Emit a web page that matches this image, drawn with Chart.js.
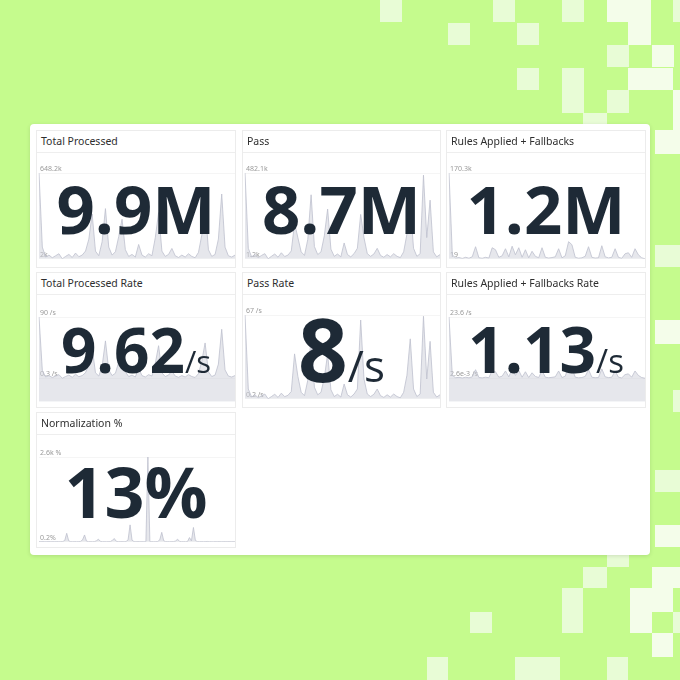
<!DOCTYPE html>
<html><head><meta charset="utf-8">
<script src="https://cdn.jsdelivr.net/npm/chart.js@4.4.1/dist/chart.umd.min.js"></script>
<style>
html,body{margin:0;padding:0;}
body{width:680px;height:680px;background:#c5fb8d;position:relative;overflow:hidden;font-family:"Open Sans","Noto Sans",sans-serif;}
.sq{position:absolute;}
.card{position:absolute;left:30px;top:124px;width:620px;height:431px;background:#fff;border-radius:4px;box-shadow:0 1px 4px rgba(0,0,0,0.12);}
.tile{position:absolute;border:1px solid #ececec;box-sizing:border-box;background:#fff;}
.hd{position:absolute;left:0;top:0;right:0;height:21px;border-bottom:1px solid #eeeeee;font:10.5px "Noto Sans",sans-serif;color:#2e2e2e;line-height:21px;padding-left:4px;white-space:nowrap;}
.tile canvas{position:absolute;left:0;}
.big{position:absolute;left:0;right:0;text-align:center;line-height:1;color:#1e2a36;font-weight:700;white-space:nowrap;font-family:"Open Sans",sans-serif;}
.big .u{font-weight:400;}
</style></head>
<body>
<div class="card"></div>
<script>
// ---- DATA ----
const titles = ["Total Processed","Pass","Rules Applied + Fallbacks","Total Processed Rate","Pass Rate","Rules Applied + Fallbacks Rate","Normalization %"];
const bigValues = ["9.9","8.7","1.2","9.62","8","1.13","13"];
const bigUnits = ["M","M","M","/s","/s","/s","%"];
const topLabels = ["648.2k","482.1k","170.3k","90 /s","67 /s","23.6 /s","2.6k %"];
const bottomLabels = ["2k","1.2k","19","0.3 /s","0.2 /s","2.6e-3 /s","0.2%"];

const totalProcessed = [648.2,90,15,30,10,25,40,2,20,35,12,45,18,30,60,150,340,60,25,130,380,90,30,55,170,300,70,20,35,15,110,30,15,40,25,160,350,60,20,35,80,25,12,30,15,40,20,10,50,180,400,70,20,35,150,490,90,25,15,30];
const pass = [482.1,60,12,25,8,20,30,1.2,15,28,10,35,14,22,45,200,120,40,20,110,360,70,25,40,130,280,55,15,28,12,90,25,12,30,60,250,120,30,15,28,60,20,10,25,12,30,15,8,40,140,300,60,15,30,470,120,330,40,12,25];
const rulesApplied = [170.3,8,1.5,2.5,0.8,3,1.2,4,24,2,1.1,3,1.5,22,18,3,6,20,4,25,8,22,3,18,2,15,5,2,22,3,1.5,2.5,4,20,2,6,34,28,3,1.2,2,5,24,3,1.5,2,26,4,1.8,3,20,3,1,10,12,3,20,8,2,0.019];
const totalRate = [90,12,2.1,4.2,1.4,3.5,5.6,0.3,2.8,4.9,1.7,6.2,2.5,4.2,8.3,21,45,8.3,3.5,18,55,12.5,4.2,7.6,24,44,9.7,2.8,4.9,2.1,15,4.2,2.1,5.6,3.5,22,48,8.3,2.8,4.9,11,3.5,1.7,4.2,2.1,5.6,2.8,1.4,7,25,52,9.7,2.8,4.9,21,72,12.5,3.5,2.1,4.2];
const passRate = [67,8,1.6,3.4,1,2.7,4,0.2,2,3.8,1.3,4.7,1.9,3,6,36,18,5.4,2.7,15,50,9.4,3.4,5.4,17,36,7.4,2,3.8,1.6,12,3.4,1.6,4,8,63,16,4,2,3.8,8,2.7,1.3,3.4,1.6,4,2,1,5.4,19,48,8,2,4,66,16,46,5.4,1.6,3.4];
const rulesRate = [23.6,1.1,0.2,0.35,0.11,0.4,0.17,0.55,3.3,0.28,0.15,0.4,0.2,3,2.5,0.4,0.8,2.8,0.55,3.5,1.1,3,0.4,2.5,0.28,2.1,0.7,0.28,3,0.4,0.2,0.35,0.55,2.8,0.28,0.8,4.7,3.9,0.4,0.17,0.28,0.7,3.3,0.4,0.2,0.28,3.6,0.55,0.25,0.4,2.8,0.4,0.14,1.4,1.7,0.4,2.8,1.1,0.28,0.0026];
const normalization = [8,5,12,4,6,10,3,7,5,9,4,6,8,40,260,30,6,4,9,5,7,12,60,210,20,5,8,4,6,30,80,15,5,7,3,9,6,40,100,18,4,6,8,5,10,60,520,50,6,4,8,5,7,4,6,2600,5,8,4,6,10,60,290,30,5,7,4,9,6,25,80,12,5,7,4,6,130,30,440,40,6,5,8,4,7,10,5,6,0.2,8,5,9,4,6,7,5,8,4,6,5];

const series = [totalProcessed, pass, rulesApplied, totalRate, passRate, rulesRate, normalization];

// ---- LAYOUT / STYLE ----
const decor = [
 [380,0,22,22,1],[448,23,22,22,1],[493,0,22,22,1],[517,23,22,22,1],[562,0,22,22,1],[607,0,22,22,2],[628,0,23,45,2],[673,0,7,22,1],
 [607,45,22,22,1],[652,45,22,22,2],[517,68,22,22,1],[562,68,22,45,1],[628,68,45,22,2],[607,90,22,23,1],[583,113,24,12,1],[673,90,7,40,2],
 [655,130,25,24,2],[655,245,25,22,1],[655,320,25,24,2],[673,390,7,22,1],[655,470,25,22,1],[655,525,25,22,2],
 [607,555,22,12,1],[583,567,24,21,1],[652,567,28,21,2],[562,588,21,45,1],[630,588,22,45,2],[652,588,21,24,2],[470,612,22,21,1],
 [673,612,7,21,1],[652,633,21,24,2],[427,657,21,23,1],[515,657,45,23,1],[607,657,21,23,1]
];
decor.forEach(d=>{const e=document.createElement('div');e.className='sq';e.style.cssText=`left:${d[0]}px;top:${d[1]}px;width:${d[2]}px;height:${d[3]}px;background:${d[4]===2?'#f4fdea':'#e8fcd6'}`;document.body.insertBefore(e, document.body.firstChild.nextSibling);});

const tiles = [
 {x:36,y:130,w:200,h:138, cTop:32, cH:101, pad:10, floor:0, fs:67, us:67, nTop:44, uBold:true},
 {x:242,y:130,w:199,h:138, cTop:32, cH:101, pad:10, floor:0, fs:67, us:67, nTop:44, uBold:true},
 {x:446,y:130,w:200,h:138, cTop:32, cH:101, pad:10, floor:0, fs:67, us:67, nTop:44, uBold:true},
 {x:36,y:272,w:200,h:136, cTop:32, cH:102, pad:12, floor:25, fs:62, us:31, nTop:45},
 {x:242,y:272,w:199,h:136, cTop:32, cH:99, pad:10, floor:0, fs:87, us:44, nTop:32},
 {x:446,y:272,w:200,h:136, cTop:32, cH:102, pad:12, floor:25, fs:64, us:33, nTop:44},
 {x:36,y:412,w:200,h:136, cTop:34, cH:100, pad:10, floor:0, fs:70, us:70, nTop:43, uBold:true}
];

tiles.forEach((t,k)=>{
  const el=document.createElement('div');el.className='tile';
  el.style.cssText=`left:${t.x}px;top:${t.y}px;width:${t.w}px;height:${t.h}px;`;
  const hd=document.createElement('div');hd.className='hd';hd.textContent=titles[k];el.appendChild(hd);
  const cv=document.createElement('canvas');cv.width=t.w-2;cv.height=t.cH;cv.style.top=t.cTop+'px';el.appendChild(cv);
  const big=document.createElement('div');big.className='big';big.style.top=t.nTop+'px';big.style.fontSize=t.fs+'px';
  const n=document.createElement('span');n.textContent=bigValues[k];big.appendChild(n);
  const u=document.createElement('span');u.className=t.uBold?'':'u';u.style.fontSize=t.us+'px';u.textContent=bigUnits[k];big.appendChild(u);
  el.appendChild(big);
  document.body.appendChild(el);

  const data=series[k];
  const dmax=Math.max(...data), dmin=Math.min(...data);
  const plotH=t.cH-t.pad;
  const smin=dmin-(dmax-dmin)*t.floor/(plotH-t.floor);
  new Chart(cv,{
    type:'line',
    data:{labels:data.map((_,i)=>i),datasets:[{data:data,fill:'start',backgroundColor:'rgba(205,207,218,0.5)',borderColor:'rgba(190,193,206,0.8)',borderWidth:1,pointRadius:0,tension:0}]},
    options:{responsive:false,animation:false,devicePixelRatio:1,
      layout:{padding:{top:t.pad,left:0,right:0,bottom:0}},
      plugins:{legend:{display:false},tooltip:{enabled:false}},
      scales:{
        x:{display:false},
        y:{min:smin,max:dmax,border:{display:false},grid:{color:'rgba(0,0,0,0.04)',drawTicks:false},
          afterBuildTicks:ax=>{ax.ticks=[{value:dmin},{value:dmax}];},
          ticks:{mirror:true,padding:1,labelOffset:-4,autoSkip:false,font:{size:7,family:'Noto Sans'},color:'#9a9a9a',
            callback:v=>v===dmax?topLabels[k]:bottomLabels[k]}}
      }}
  });
});
</script>
</body></html>
